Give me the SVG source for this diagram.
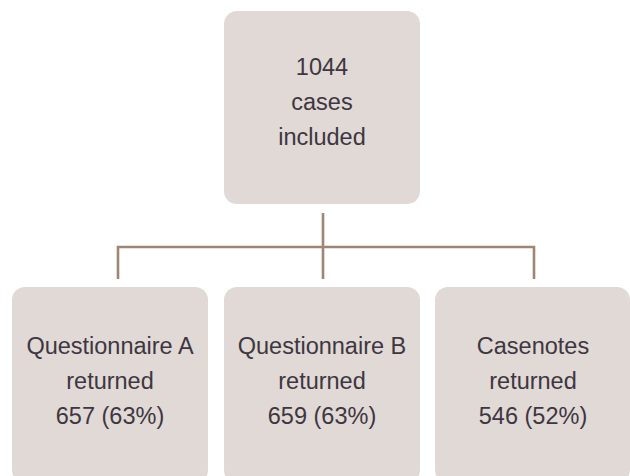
<svg xmlns="http://www.w3.org/2000/svg" width="630" height="476" viewBox="0 0 630 476">
<style>
.box{fill:#e0d9d5;}
.t{font-family:"Liberation Sans",Arial,sans-serif;font-size:23.5px;fill:#3e3641;text-anchor:middle;}
.c{stroke:#a08474;stroke-width:2.6;fill:none;}
</style>
<rect width="630" height="476" fill="#ffffff"/>
<g id="connectors">
<line class="c" x1="323" y1="213" x2="323" y2="279"/>
<polyline class="c" points="118,279 118,247 534,247 534,279"/>
</g>
<g id="top">
<rect class="box" x="224" y="11" width="196" height="193" rx="13"/>
<text class="t" x="322" y="75">1044</text>
<text class="t" x="322" y="110">cases</text>
<text class="t" x="322" y="145">included</text>
</g>
<g id="qa">
<rect class="box" x="12" y="287" width="196" height="196" rx="13"/>
<text class="t" x="110" y="354">Questionnaire A</text>
<text class="t" x="110" y="389">returned</text>
<text class="t" x="110" y="424">657 (63%)</text>
</g>
<g id="qb">
<rect class="box" x="224" y="287" width="196" height="196" rx="13"/>
<text class="t" x="322" y="354">Questionnaire B</text>
<text class="t" x="322" y="389">returned</text>
<text class="t" x="322" y="424">659 (63%)</text>
</g>
<g id="cn">
<rect class="box" x="435" y="287" width="195" height="196" rx="13"/>
<text class="t" x="533" y="354">Casenotes</text>
<text class="t" x="533" y="389">returned</text>
<text class="t" x="533" y="424">546 (52%)</text>
</g>
</svg>
